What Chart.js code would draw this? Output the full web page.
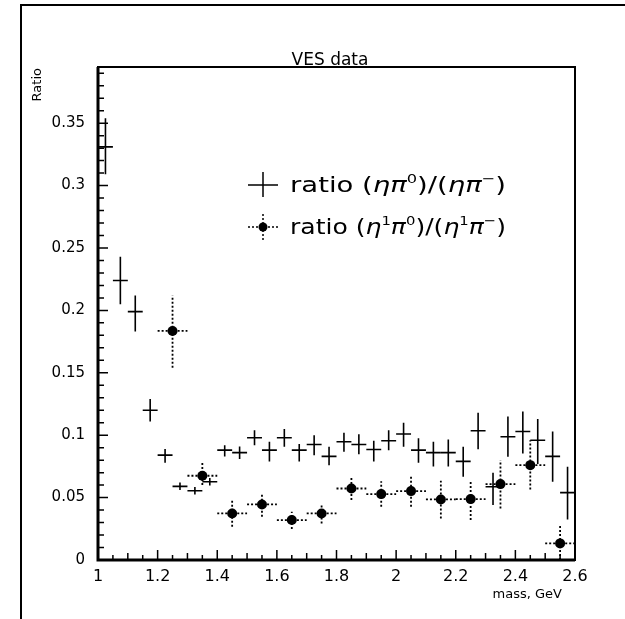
<!DOCTYPE html>
<html>
<head>
<meta charset="utf-8">
<script src="https://cdn.jsdelivr.net/npm/chart.js@4.4.1/dist/chart.umd.min.js"></script>
<style>
  html, body { margin: 0; padding: 0; background: #fff; }
  #wrap { position: relative; width: 625px; height: 619px; }
  #frame { position: absolute; left: 20px; top: 4px; width: 620px; height: 630px;
           border-top: 2px solid #000; border-left: 2px solid #000; pointer-events: none; }
</style>
</head>
<body>
<div id="wrap">
  <canvas id="c" width="625" height="619"></canvas>
  <div id="frame"></div>
</div>
<script>
// ---- data: ratio (eta pi0)/(eta pi-) ----
const s1X  = [1.025,1.075,1.125,1.175,1.225,1.275,1.325,1.375,1.425,1.475,1.525,1.575,1.625,1.675,1.725,1.775,1.825,1.875,1.925,1.975,2.025,2.075,2.125,2.175,2.225,2.275,2.325,2.375,2.425,2.475,2.525,2.575];
const s1Y  = [0.331,0.224,0.199,0.120,0.084,0.059,0.0555,0.0627,0.088,0.086,0.098,0.088,0.098,0.088,0.0925,0.083,0.0947,0.0925,0.0885,0.0955,0.101,0.088,0.086,0.086,0.079,0.1035,0.0587,0.0987,0.103,0.096,0.083,0.054];
const s1Lo = [0.309,0.205,0.183,0.111,0.078,0.056,0.0525,0.0597,0.083,0.081,0.092,0.079,0.0907,0.079,0.084,0.076,0.0867,0.0848,0.079,0.088,0.0907,0.078,0.075,0.075,0.0667,0.0888,0.044,0.0827,0.0853,0.077,0.0627,0.0325];
const s1Hi = [0.354,0.243,0.212,0.129,0.089,0.062,0.0585,0.0657,0.092,0.091,0.104,0.0947,0.105,0.093,0.100,0.0907,0.102,0.1008,0.0955,0.104,0.110,0.0976,0.0947,0.0965,0.0907,0.118,0.070,0.115,0.119,0.113,0.103,0.0747];
const s1HalfBin = 0.025;

// ---- data: ratio (eta' pi0)/(eta' pi-) ----
const s2X  = [1.25,1.35,1.45,1.55,1.65,1.75,1.85,1.95,2.05,2.15,2.25,2.35,2.45,2.55];
const s2Y  = [0.1835,0.0675,0.0373,0.0445,0.032,0.0373,0.0573,0.0528,0.0552,0.0485,0.0488,0.0608,0.076,0.0133];
const s2Lo = [0.154,0.060,0.0267,0.0347,0.0248,0.0293,0.048,0.0427,0.0427,0.0333,0.032,0.0413,0.0565,0.0];
const s2Hi = [0.212,0.0787,0.048,0.0528,0.0387,0.044,0.0667,0.063,0.0672,0.0635,0.064,0.080,0.096,0.0288];
const s2HalfBin = 0.05;

// ---- axes ----
const xTickValues = [1,1.2,1.4,1.6,1.8,2,2.2,2.4,2.6];
const xTickLabels = ['1','1.2','1.4','1.6','1.8','2','2.2','2.4','2.6'];
const yTickValues = [0,0.05,0.1,0.15,0.2,0.25,0.3,0.35];
const yTickLabels = ['0','0.05','0.1','0.15','0.2','0.25','0.3','0.35'];
const xRange = [1, 2.6];
const yRange = [0, 0.395];

const titleText = 'VES data';
const xTitle = 'mass, GeV';
const yTitle = 'Ratio';
const legend1 = [['ratio (',''],['ηπ','i'],['0','s'],[')/(',''],['ηπ','i'],['−','s'],[')','']];
const legend2 = [['ratio (',''],['η','i'],['1','s'],['π','i'],['0','s'],[')/(',''],['η','i'],['1','s'],['π','i'],['−','s'],[')','']];

function toPts(xs, ys){ return xs.map((x,i)=>({x:x,y:ys[i]})); }

const errorBars = {
  id: 'errorBars',
  beforeDatasetsDraw(chart){
    const ctx = chart.ctx, xs = chart.scales.x, ys = chart.scales.y;
    chart.data.datasets.forEach((ds)=>{
      ctx.save();
      ctx.strokeStyle = '#000';
      ctx.lineWidth = ds.errWidth;
      ctx.setLineDash(ds.errDash);
      ds.data.forEach((p,i)=>{
        const px = xs.getPixelForValue(p.x), py = ys.getPixelForValue(p.y);
        const x0 = xs.getPixelForValue(p.x - ds.halfBin), x1 = xs.getPixelForValue(p.x + ds.halfBin);
        const yl = ys.getPixelForValue(ds.lo[i]), yh = ys.getPixelForValue(ds.hi[i]);
        ctx.beginPath();
        ctx.moveTo(x0, py); ctx.lineTo(x1, py);
        ctx.moveTo(px, yl); ctx.lineTo(px, yh);
        ctx.stroke();
      });
      ctx.restore();
    });
  }
};

function segFont(st, size){
  let f = size, style = '';
  if (st === 's') f = Math.round(size*0.6);
  if (st === 'i') style = 'italic ';
  return style + f + 'px "DejaVu Sans", sans-serif';
}
function drawRich(ctx, segs, x, y, size, targetW){
  let w = 0;
  segs.forEach(([t,st])=>{ ctx.font = segFont(st,size); w += ctx.measureText(t).width; });
  const sx = targetW / w;
  ctx.save();
  ctx.translate(x, y);
  ctx.scale(sx, 1);
  let cx = 0;
  segs.forEach(([t,st])=>{
    const dy = (st === 's') ? -size*0.42 : 0;
    ctx.font = segFont(st,size);
    ctx.fillText(t, cx, dy);
    cx += ctx.measureText(t).width;
  });
  ctx.restore();
}

const decor = {
  id: 'decor',
  afterDraw(chart){
    const ctx = chart.ctx, xs = chart.scales.x, ys = chart.scales.y;
    const a = chart.chartArea;
    ctx.save();
    ctx.strokeStyle = '#000';
    // frame
    ctx.lineWidth = 2;
    ctx.strokeRect(a.left, a.top, a.right - a.left, a.bottom - a.top);
    ctx.lineWidth = 3;
    ctx.beginPath();
    ctx.moveTo(a.left, a.top); ctx.lineTo(a.left, a.bottom); ctx.lineTo(a.right, a.bottom);
    ctx.stroke();
    // inward ticks
    ctx.lineWidth = 1.5;
    ctx.beginPath();
    for (let k = 0; k <= 39; k++){
      const py = ys.getPixelForValue(k*0.01);
      const len = (k % 5 === 0) ? 10 : 6;
      ctx.moveTo(a.left, py); ctx.lineTo(a.left + len, py);
    }
    for (let k = 0; k <= 32; k++){
      const px = xs.getPixelForValue(1 + k*0.05);
      const len = (k % 4 === 0) ? 10 : (k % 2 === 0 ? 7 : 5);
      ctx.moveTo(px, a.bottom); ctx.lineTo(px, a.bottom - len);
    }
    ctx.stroke();
    // texts
    ctx.fillStyle = '#000';
    ctx.textBaseline = 'alphabetic';
    ctx.font = '17px "DejaVu Sans", sans-serif';
    ctx.textAlign = 'center';
    ctx.fillText(titleText, 330, 65);
    ctx.font = '13px "DejaVu Sans", sans-serif';
    ctx.textAlign = 'right';
    ctx.fillText(xTitle, 562, 598);
    ctx.save();
    ctx.translate(41, 68);
    ctx.rotate(-Math.PI/2);
    ctx.textAlign = 'right';
    ctx.fillText(yTitle, 0, 0);
    ctx.restore();
    // legend
    ctx.textAlign = 'left';
    ctx.lineWidth = 1.5;
    ctx.beginPath();
    ctx.moveTo(248, 185); ctx.lineTo(278, 185);
    ctx.moveTo(263, 172); ctx.lineTo(263, 197);
    ctx.stroke();
    ctx.save();
    ctx.setLineDash([2,2]);
    ctx.beginPath();
    ctx.moveTo(248, 227); ctx.lineTo(278, 227);
    ctx.moveTo(263, 214); ctx.lineTo(263, 240);
    ctx.stroke();
    ctx.restore();
    ctx.beginPath(); ctx.arc(263, 227, 4.5, 0, Math.PI*2); ctx.fill();
    drawRich(ctx, legend1, 290, 192, 22, 216);
    drawRich(ctx, legend2, 290, 234, 22, 216);
    ctx.restore();
  }
};

new Chart(document.getElementById('c'), {
  type: 'scatter',
  data: {
    datasets: [
      { label: 'ratio (ηπ0)/(ηπ-)', data: toPts(s1X, s1Y), lo: s1Lo, hi: s1Hi, halfBin: s1HalfBin,
        errWidth: 1.6, errDash: [], pointRadius: 0, pointHoverRadius: 0,
        backgroundColor: '#000', borderColor: '#000' },
      { label: "ratio (η'π0)/(η'π-)", data: toPts(s2X, s2Y), lo: s2Lo, hi: s2Hi, halfBin: s2HalfBin,
        errWidth: 1.8, errDash: [2,2], pointRadius: 5, pointHoverRadius: 5,
        backgroundColor: '#000', borderColor: '#000', borderWidth: 0 }
    ]
  },
  options: {
    responsive: false,
    animation: false,
    events: [],
    layout: { padding: { left: 0, right: 50, top: 67, bottom: 0 } },
    plugins: { legend: { display: false }, title: { display: false }, tooltip: { enabled: false } },
    scales: {
      x: {
        type: 'linear', min: xRange[0], max: xRange[1],
        grid: { display: false, drawTicks: false },
        border: { display: false },
        afterBuildTicks: (s)=>{ s.ticks = xTickValues.map(v=>({value:v})); },
        afterFit: (s)=>{ s.height = 59; },
        ticks: { color: '#000', padding: 7, maxRotation: 0, autoSkip: false,
                 font: { family: '"DejaVu Sans", sans-serif', size: 16 },
                 callback: (v)=>{ const i = xTickValues.findIndex(t=>Math.abs(t-v)<1e-9); return i>=0 ? xTickLabels[i] : ''; } }
      },
      y: {
        type: 'linear', min: yRange[0], max: yRange[1],
        grid: { display: false, drawTicks: false },
        border: { display: false },
        afterBuildTicks: (s)=>{ s.ticks = yTickValues.map(v=>({value:v})); },
        afterFit: (s)=>{ s.width = 98; },
        ticks: { color: '#000', padding: 13, autoSkip: false,
                 font: { family: '"DejaVu Sans", sans-serif', size: 15 },
                 callback: (v)=>{ const i = yTickValues.findIndex(t=>Math.abs(t-v)<1e-9); return i>=0 ? yTickLabels[i] : ''; } }
      }
    }
  },
  plugins: [errorBars, decor]
});
</script>
</body>
</html>
